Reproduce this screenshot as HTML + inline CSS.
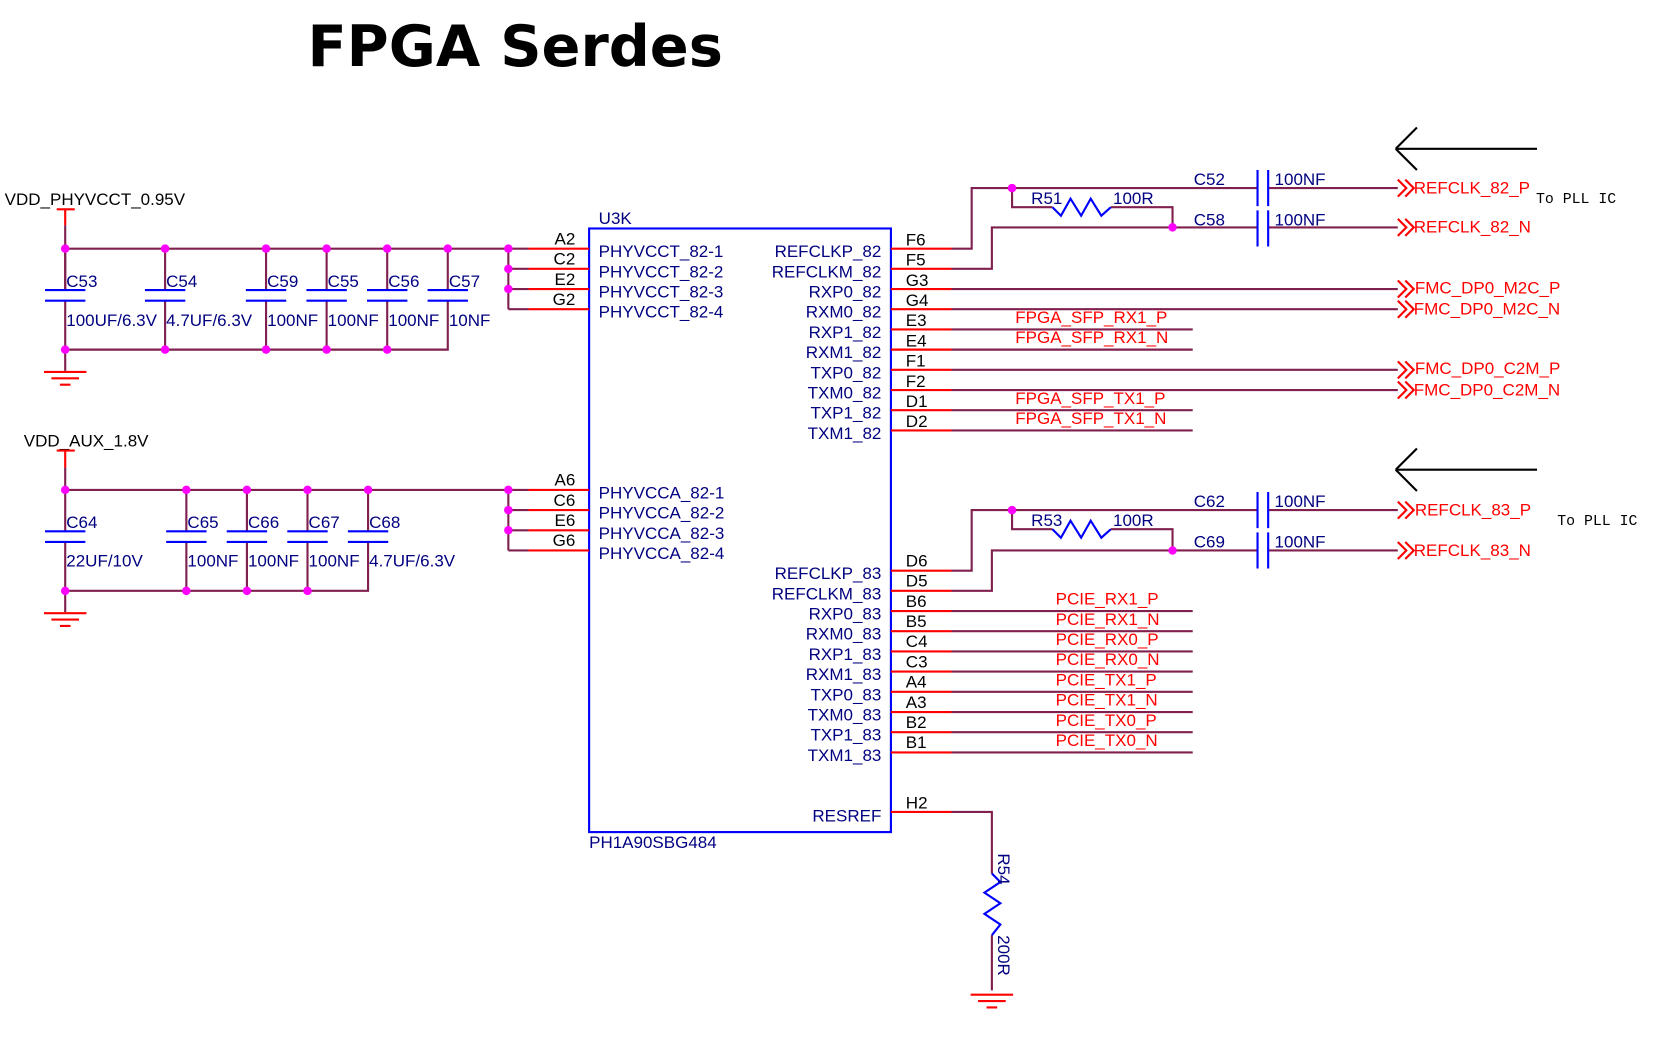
<!DOCTYPE html>
<html><head><meta charset="utf-8"><style>
html,body{margin:0;padding:0;background:#fff;}
svg{display:block;}
text{font-family:"Liberation Sans",Arial,sans-serif;}
.w{stroke:#80204f;stroke-width:2;fill:none;}
.r{stroke:#ff0000;stroke-width:2;fill:none;}
.b{stroke:#0000ff;stroke-width:2;fill:none;}
.k{stroke:#000;stroke-width:2;fill:none;}
.d{fill:#ff00ff;}
.l{fill:#000080;font-size:16px;}
.n{fill:#ff0000;font-size:16px;}
.p{fill:#000;font-size:16px;}
.m{font-family:"Liberation Mono",monospace;font-size:14px;fill:#000;}
</style></head><body>
<svg width="1666" height="1051" viewBox="0 0 1567 989" xmlns="http://www.w3.org/2000/svg">
<text x="289" y="62" style="font-size:54px;font-weight:bold;fill:#000;font-family:'DejaVu Sans','Liberation Sans',sans-serif">FPGA Serdes</text>

<rect x="554" y="215" width="284" height="568" class="b"/>
<text x="563" y="211" class="l">U3K</text>
<text x="554" y="798" class="l">PH1A90SBG484</text>

<text x="4" y="193" class="p">VDD_PHYVCCT_0.95V</text>
<line x1="53" y1="197" x2="70" y2="197" class="r"/>
<line x1="61" y1="197" x2="61" y2="212" class="r"/>
<line x1="61" y1="212" x2="61" y2="273" class="w"/>
<line x1="61" y1="234" x2="497" y2="234" class="w"/>
<line x1="497" y1="234" x2="554" y2="234" class="r"/>
<line x1="478" y1="234" x2="478" y2="291" class="w"/>
<line x1="478" y1="253" x2="497" y2="253" class="w"/><line x1="497" y1="253" x2="554" y2="253" class="r"/>
<line x1="478" y1="272" x2="497" y2="272" class="w"/><line x1="497" y1="272" x2="554" y2="272" class="r"/>
<line x1="478" y1="291" x2="497" y2="291" class="w"/><line x1="497" y1="291" x2="554" y2="291" class="r"/>
<text x="541" y="230" class="p" text-anchor="end">A2</text>
<text x="541" y="249" class="p" text-anchor="end">C2</text>
<text x="541" y="268" class="p" text-anchor="end">E2</text>
<text x="541" y="287" class="p" text-anchor="end">G2</text>
<text x="563" y="242" class="l">PHYVCCT_82-1</text>
<text x="563" y="261" class="l">PHYVCCT_82-2</text>
<text x="563" y="280" class="l">PHYVCCT_82-3</text>
<text x="563" y="299" class="l">PHYVCCT_82-4</text>
<g>
<path d="M61 234V273M61 283V329 M155 234V273M155 283V329 M250 234V273M250 283V329 M307 234V273M307 283V329 M364 234V273M364 283V329 M421 234V273M421 283V329 H61" class="w"/>
<path d="M42 273H80M42 283H80 M136 273H174M136 283H174 M231 273H269M231 283H269 M288 273H326M288 283H326 M345 273H383M345 283H383 M402 273H440M402 283H440" class="b"/>
<line x1="61" y1="329" x2="61" y2="349" class="w"/>
<path d="M41 350H81M48 356H74M56 362H66" class="r"/>
<g class="d"><circle cx="61" cy="234" r="4"/><circle cx="155" cy="234" r="4"/><circle cx="250" cy="234" r="4"/><circle cx="307" cy="234" r="4"/><circle cx="364" cy="234" r="4"/><circle cx="421" cy="234" r="4"/><circle cx="478" cy="234" r="4"/><circle cx="478" cy="253" r="4"/><circle cx="478" cy="272" r="4"/>
<circle cx="61" cy="329" r="4"/><circle cx="155" cy="329" r="4"/><circle cx="250" cy="329" r="4"/><circle cx="307" cy="329" r="4"/><circle cx="364" cy="329" r="4"/></g>
<text x="62" y="270" class="l">C53</text><text x="156" y="270" class="l">C54</text><text x="251" y="270" class="l">C59</text><text x="308" y="270" class="l">C55</text><text x="365" y="270" class="l">C56</text><text x="422" y="270" class="l">C57</text>
<text x="62" y="307" class="l">100UF/6.3V</text><text x="156" y="307" class="l">4.7UF/6.3V</text><text x="251" y="307" class="l">100NF</text><text x="308" y="307" class="l">100NF</text><text x="365" y="307" class="l">100NF</text><text x="422" y="307" class="l">10NF</text>
</g>

<text x="22" y="420" class="p">VDD_AUX_1.8V</text>
<line x1="53" y1="424" x2="70" y2="424" class="r"/>
<line x1="61" y1="424" x2="61" y2="440" class="r"/>
<line x1="61" y1="440" x2="61" y2="500" class="w"/>
<line x1="61" y1="461" x2="497" y2="461" class="w"/>
<line x1="497" y1="461" x2="554" y2="461" class="r"/>
<line x1="478" y1="461" x2="478" y2="518" class="w"/>
<line x1="478" y1="480" x2="497" y2="480" class="w"/><line x1="497" y1="480" x2="554" y2="480" class="r"/>
<line x1="478" y1="499" x2="497" y2="499" class="w"/><line x1="497" y1="499" x2="554" y2="499" class="r"/>
<line x1="478" y1="518" x2="497" y2="518" class="w"/><line x1="497" y1="518" x2="554" y2="518" class="r"/>
<text x="541" y="457" class="p" text-anchor="end">A6</text>
<text x="541" y="476" class="p" text-anchor="end">C6</text>
<text x="541" y="495" class="p" text-anchor="end">E6</text>
<text x="541" y="514" class="p" text-anchor="end">G6</text>
<text x="563" y="469" class="l">PHYVCCA_82-1</text>
<text x="563" y="488" class="l">PHYVCCA_82-2</text>
<text x="563" y="507" class="l">PHYVCCA_82-3</text>
<text x="563" y="526" class="l">PHYVCCA_82-4</text>
<path d="M61 510V556 M175 461V500M175 510V556 M232 461V500M232 510V556 M289 461V500M289 510V556 M346 461V500M346 510V556 H61" class="w"/>
<path d="M42 500H80M42 510H80 M156 500H194M156 510H194 M213 500H251M213 510H251 M270 500H308M270 510H308 M327 500H365M327 510H365" class="b"/>
<line x1="61" y1="556" x2="61" y2="576" class="w"/>
<path d="M41 577H81M48 583H74M56 589H66" class="r"/>
<g class="d"><circle cx="61" cy="461" r="4"/><circle cx="175" cy="461" r="4"/><circle cx="232" cy="461" r="4"/><circle cx="289" cy="461" r="4"/><circle cx="346" cy="461" r="4"/><circle cx="478" cy="461" r="4"/><circle cx="478" cy="480" r="4"/><circle cx="478" cy="499" r="4"/>
<circle cx="61" cy="556" r="4"/><circle cx="175" cy="556" r="4"/><circle cx="232" cy="556" r="4"/><circle cx="289" cy="556" r="4"/></g>
<text x="62" y="497" class="l">C64</text><text x="176" y="497" class="l">C65</text><text x="233" y="497" class="l">C66</text><text x="290" y="497" class="l">C67</text><text x="347" y="497" class="l">C68</text>
<text x="62" y="533" class="l">22UF/10V</text><text x="176" y="533" class="l">100NF</text><text x="233" y="533" class="l">100NF</text><text x="290" y="533" class="l">100NF</text><text x="347" y="533" class="l">4.7UF/6.3V</text>

<g class="l" text-anchor="end">
<text x="829" y="242">REFCLKP_82</text><text x="829" y="261">REFCLKM_82</text><text x="829" y="280">RXP0_82</text><text x="829" y="299">RXM0_82</text><text x="829" y="318">RXP1_82</text><text x="829" y="337">RXM1_82</text><text x="829" y="356">TXP0_82</text><text x="829" y="375">TXM0_82</text><text x="829" y="394">TXP1_82</text><text x="829" y="413">TXM1_82</text>
</g>
<g class="p">
<text x="852" y="231">F6</text><text x="852" y="250">F5</text><text x="852" y="269">G3</text><text x="852" y="288">G4</text><text x="852" y="307">E3</text><text x="852" y="326">E4</text><text x="852" y="345">F1</text><text x="852" y="364">F2</text><text x="852" y="383">D1</text><text x="852" y="402">D2</text>
</g>
<path d="M838 234H895M838 253H895M838 272H895M838 291H895M838 310H895M838 329H895M838 348H895M838 367H895M838 386H895M838 405H895" class="r"/>
<path d="M895 234H914V177H1183 M1193 177H1315 M952 177V195H990 M1045 195H1103V214 M895 253H933V214H1183 M1193 214H1315 M895 272H1315 M895 291H1315 M895 310H1122 M895 329H1122 M895 348H1315 M895 367H1315 M895 386H1122 M895 405H1122" class="w"/>
<polyline points="990,195 998,203 1007,187 1017,203 1026,187 1036,203 1045,195" class="b"/>
<path d="M1183 160V194M1193 160V194M1183 198V232M1193 198V232" class="b"/>
<circle cx="952" cy="177" r="4" class="d"/><circle cx="1103" cy="214" r="4" class="d"/>
<text x="1123" y="174" class="l">C52</text><text x="1199" y="174" class="l">100NF</text>
<text x="1123" y="212" class="l">C58</text><text x="1199" y="212" class="l">100NF</text>
<text x="970" y="192" class="l">R51</text><text x="1047" y="192" class="l">100R</text>
<text x="955" y="304" class="n">FPGA_SFP_RX1_P</text>
<text x="955" y="323" class="n">FPGA_SFP_RX1_N</text>
<text x="955" y="380" class="n">FPGA_SFP_TX1_P</text>
<text x="955" y="399" class="n">FPGA_SFP_TX1_N</text>

<g class="r">
<path d="M1315 169L1323 177L1315 185M1322 169L1330 177L1322 185"/>
<path d="M1315 206L1323 214L1315 222M1322 206L1330 214L1322 222"/>
<path d="M1315 264L1323 272L1315 280M1322 264L1330 272L1322 280"/>
<path d="M1315 283L1323 291L1315 299M1322 283L1330 291L1322 299"/>
<path d="M1315 340L1323 348L1315 356M1322 340L1330 348L1322 356"/>
<path d="M1315 359L1323 367L1315 375M1322 359L1330 367L1322 375"/>
<path d="M1315 472L1323 480L1315 488M1322 472L1330 480L1322 488"/>
<path d="M1315 510L1323 518L1315 526M1322 510L1330 518L1322 526"/>
</g>
<text x="1330" y="182" class="n">REFCLK_82_P</text>
<text x="1330" y="219" class="n">REFCLK_82_N</text>
<text x="1331" y="276" class="n">FMC_DP0_M2C_P</text>
<text x="1330" y="296" class="n">FMC_DP0_M2C_N</text>
<text x="1331" y="352" class="n">FMC_DP0_C2M_P</text>
<text x="1330" y="372" class="n">FMC_DP0_C2M_N</text>
<text x="1331" y="485" class="n">REFCLK_83_P</text>
<text x="1330" y="523" class="n">REFCLK_83_N</text>
<text x="1445" y="191" class="m">To PLL IC</text>
<text x="1465" y="494" class="m">To PLL IC</text>
<path d="M1313 140H1446M1313 140L1333 120M1313 140L1333 160" class="k"/>
<path d="M1313 442H1446M1313 442L1333 422M1313 442L1333 462" class="k"/>

<g class="l" text-anchor="end">
<text x="829" y="545">REFCLKP_83</text><text x="829" y="564">REFCLKM_83</text><text x="829" y="583">RXP0_83</text><text x="829" y="602">RXM0_83</text><text x="829" y="621">RXP1_83</text><text x="829" y="640">RXM1_83</text><text x="829" y="659">TXP0_83</text><text x="829" y="678">TXM0_83</text><text x="829" y="697">TXP1_83</text><text x="829" y="716">TXM1_83</text>
<text x="829" y="773">RESREF</text>
</g>
<g class="p">
<text x="852" y="533">D6</text><text x="852" y="552">D5</text><text x="852" y="571">B6</text><text x="852" y="590">B5</text><text x="852" y="609">C4</text><text x="852" y="628">C3</text><text x="852" y="647">A4</text><text x="852" y="666">A3</text><text x="852" y="685">B2</text><text x="852" y="704">B1</text>
<text x="852" y="761">H2</text>
</g>
<path d="M838 537H895M838 556H895M838 575H895M838 594H895M838 613H895M838 632H895M838 651H895M838 670H895M838 689H895M838 708H895M838 764H895" class="r"/>
<path d="M895 537H914V480H1183 M1193 480H1315 M952 480V498H990 M1045 498H1103V518 M895 556H933V518H1183 M1193 518H1315 M895 575H1122M895 594H1122M895 613H1122M895 632H1122M895 651H1122M895 670H1122M895 689H1122M895 708H1122" class="w"/>
<polyline points="990,498 998,506 1007,490 1017,506 1026,490 1036,506 1045,498" class="b"/>
<path d="M1183 463V497M1193 463V497M1183 501V535M1193 501V535" class="b"/>
<circle cx="952" cy="480" r="4" class="d"/><circle cx="1103" cy="518" r="4" class="d"/>
<text x="1123" y="477" class="l">C62</text><text x="1199" y="477" class="l">100NF</text>
<text x="1123" y="515" class="l">C69</text><text x="1199" y="515" class="l">100NF</text>
<text x="970" y="495" class="l">R53</text><text x="1047" y="495" class="l">100R</text>
<g class="n">
<text x="993" y="569">PCIE_RX1_P</text><text x="993" y="588">PCIE_RX1_N</text><text x="993" y="607">PCIE_RX0_P</text><text x="993" y="626">PCIE_RX0_N</text><text x="993" y="645">PCIE_TX1_P</text><text x="993" y="664">PCIE_TX1_N</text><text x="993" y="683">PCIE_TX0_P</text><text x="993" y="702">PCIE_TX0_N</text>
</g>

<path d="M895 764H933V822 M933 880V932" class="w"/>
<polyline points="933,822 941,830 926,840 941,850 926,860 941,870 933,880" class="b"/>
<path d="M913 936H953M920 942H946M928 948H938" class="r"/>
<text x="0" y="0" class="l" transform="translate(939,803) rotate(90)">R54</text>
<text x="0" y="0" class="l" transform="translate(939,880) rotate(90)">200R</text>
</svg>
</body></html>
